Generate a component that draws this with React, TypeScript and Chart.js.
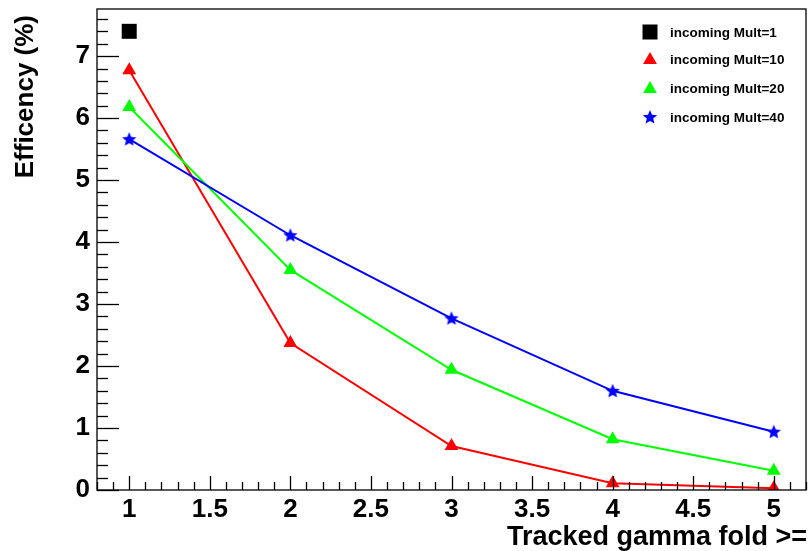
import React, { useEffect, useRef } from "react";
import { Chart, registerables } from "chart.js";
Chart.register(...registerables);

const folds = [1, 2, 3, 4, 5];
const mult1Folds = [1];
const mult1 = [7.4];
const mult10 = [6.77, 2.37, 0.71, 0.11, 0.03];
const mult20 = [6.18, 3.55, 1.94, 0.82, 0.31];
const mult40 = [5.66, 4.11, 2.77, 1.6, 0.94];
const legendLabels = ["incoming Mult=1", "incoming Mult=10", "incoming Mult=20", "incoming Mult=40"];
const xTitle = "Tracked gamma fold >=";
const yTitle = "Efficency (%)";

const FONT = "'Liberation Sans', Arial, Helvetica, sans-serif";
const AREA = { left: 97, right: 806, top: 9, bottom: 490 };

function starPath(ctx: CanvasRenderingContext2D, cx: number, cy: number, ro: number, ri: number) {
  ctx.beginPath();
  for (let i = 0; i < 10; i++) {
    const r = i % 2 === 0 ? ro : ri;
    const a = -Math.PI / 2 + (i * Math.PI) / 5;
    const x = cx + r * Math.cos(a);
    const y = cy + r * Math.sin(a);
    if (i === 0) ctx.moveTo(x, y);
    else ctx.lineTo(x, y);
  }
  ctx.closePath();
}

function makeStar(color: string) {
  const c = document.createElement("canvas");
  c.width = 16;
  c.height = 16;
  const ctx = c.getContext("2d")!;
  ctx.fillStyle = color;
  starPath(ctx, 8, 8.5, 7.5, 3.4);
  ctx.fill();
  return c;
}

function triPath(ctx: CanvasRenderingContext2D, x: number, y: number, r: number) {
  ctx.beginPath();
  ctx.moveTo(x, y - r);
  ctx.lineTo(x + r * Math.sin(Math.PI / 3), y + r * 0.5);
  ctx.lineTo(x - r * Math.sin(Math.PI / 3), y + r * 0.5);
  ctx.closePath();
}

const rootPlugin = {
  id: "rootDecor",
  afterDraw(chart: any) {
    const ctx: CanvasRenderingContext2D = chart.ctx;
    const { left, right, top, bottom } = chart.chartArea;
    const xs = chart.scales.x;
    const ys = chart.scales.y;
    ctx.save();
    ctx.strokeStyle = "#000";
    ctx.lineWidth = 1.3;
    ctx.strokeRect(left, top, right - left, bottom - top);
    for (let i = 0; i <= 40; i++) {
      const v = i * 0.2;
      if (v > ys.max + 1e-9) break;
      const py = Math.round(ys.getPixelForValue(v)) + 0.5;
      const major = i % 5 === 0;
      ctx.beginPath();
      ctx.moveTo(left, py);
      ctx.lineTo(left + (major ? 22 : 11), py);
      ctx.stroke();
    }
    for (let i = 8; i <= 52; i++) {
      const v = i * 0.1;
      if (v > xs.max + 1e-9) break;
      const px = Math.round(xs.getPixelForValue(v)) + 0.5;
      const major = i % 5 === 0;
      ctx.beginPath();
      ctx.moveTo(px, bottom);
      ctx.lineTo(px, bottom - (major ? 14 : 8));
      ctx.stroke();
    }
    ctx.fillStyle = "#000";
    ctx.font = `bold 27px ${FONT}`;
    ctx.textAlign = "right";
    ctx.textBaseline = "alphabetic";
    ctx.fillText(xTitle, 807, 545);
    ctx.save();
    ctx.translate(33, 15);
    ctx.rotate(-Math.PI / 2);
    ctx.font = `bold 26px ${FONT}`;
    ctx.textAlign = "right";
    ctx.fillText(yTitle, 0, 0);
    ctx.restore();
    const rows = [32, 59, 88, 117];
    const mx = 650;
    ctx.font = `bold 13.5px ${FONT}`;
    ctx.textAlign = "left";
    ctx.textBaseline = "middle";
    rows.forEach((ry, i) => {
      if (i === 0) {
        ctx.fillStyle = "#000";
        ctx.fillRect(mx - 7.5, ry - 7.5, 15, 15);
      } else if (i === 1 || i === 2) {
        ctx.fillStyle = i === 1 ? "#ff0000" : "#00ff00";
        triPath(ctx, mx, ry + 1, 8);
        ctx.fill();
      } else {
        ctx.fillStyle = "#0000ff";
        starPath(ctx, mx, ry + 0.5, 7.5, 3.4);
        ctx.fill();
      }
      ctx.fillStyle = "#000";
      ctx.fillText(legendLabels[i], 670, ry + 1);
    });
    ctx.restore();
  },
};

export default function App() {
  const ref = useRef<HTMLCanvasElement>(null);
  useEffect(() => {
    const star = makeStar("#0000ff");
    const toPts = (xsArr: number[], ysArr: number[]) => xsArr.map((x, i) => ({ x, y: ysArr[i] }));
    const chart: any = new Chart(ref.current!, {
      type: "scatter",
      data: {
        datasets: [
          {
            label: legendLabels[3],
            data: toPts(folds, mult40),
            showLine: true,
            borderColor: "#0000ff",
            backgroundColor: "#0000ff",
            borderWidth: 2,
            pointStyle: star as any,
            pointRadius: 7,
          },
          {
            label: legendLabels[2],
            data: toPts(folds, mult20),
            showLine: true,
            borderColor: "#00ff00",
            backgroundColor: "#00ff00",
            borderWidth: 2,
            pointStyle: "triangle",
            pointRadius: 8,
            pointBorderWidth: 0,
          },
          {
            label: legendLabels[1],
            data: toPts(folds, mult10),
            showLine: true,
            borderColor: "#ff0000",
            backgroundColor: "#ff0000",
            borderWidth: 2,
            pointStyle: "triangle",
            pointRadius: 8,
            pointBorderWidth: 0,
          },
          {
            label: legendLabels[0],
            data: toPts(mult1Folds, mult1),
            showLine: false,
            borderColor: "#000",
            backgroundColor: "#000",
            pointStyle: "rect",
            pointRadius: 10.6,
            pointBorderWidth: 0,
          },
        ],
      },
      options: {
        animation: false,
        responsive: false,
        events: [],
        layout: { autoPadding: false, padding: { left: 0, top: 9, right: 3, bottom: 0 } },
        plugins: { legend: { display: false }, tooltip: { enabled: false } },
        elements: { line: { tension: 0 } },
        scales: {
          x: {
            type: "linear",
            min: 0.8,
            max: 5.2,
            grid: { display: false, drawTicks: false },
            border: { display: false },
            afterFit: (s: any) => {
              s.height = 61;
              s.paddingLeft = 0;
              s.paddingRight = 0;
              s.paddingTop = 0;
              s.paddingBottom = 0;
            },
            ticks: {
              stepSize: 0.5,
              includeBounds: false,
              padding: 4,
              color: "#000",
              font: { family: FONT, size: 26, weight: "bold" },
              callback: (v: any) => String(v),
              maxRotation: 0,
              autoSkip: false,
            },
          },
          y: {
            type: "linear",
            min: 0,
            max: 7.76,
            grid: { display: false, drawTicks: false },
            border: { display: false },
            afterFit: (s: any) => {
              s.width = 97;
              s.paddingLeft = 0;
              s.paddingRight = 0;
              s.paddingTop = 0;
              s.paddingBottom = 0;
            },
            ticks: {
              stepSize: 1,
              includeBounds: false,
              padding: 7,
              color: "#000",
              font: { family: FONT, size: 26, weight: "bold" },
              callback: (v: any) => String(v),
              autoSkip: false,
            },
          },
        },
      },
      plugins: [rootPlugin],
    } as any);
    for (let k = 0; k < 4; k++) {
      const a = chart.chartArea;
      const p = chart.options.layout.padding;
      const dr = a.right - AREA.right;
      const dl = a.left - AREA.left;
      const dt = a.top - AREA.top;
      const db = a.bottom - AREA.bottom;
      if (Math.abs(dr) < 0.5 && Math.abs(dl) < 0.5 && Math.abs(dt) < 0.5 && Math.abs(db) < 0.5) break;
      chart.options.layout.padding = {
        left: p.left - dl,
        right: p.right + dr,
        top: p.top - dt,
        bottom: p.bottom + db,
      };
      chart.update();
    }
    return () => chart.destroy();
  }, []);
  return (
    <div style={{ position: "absolute", left: 0, top: 0, width: 809, height: 551, background: "#fff" }}>
      <canvas ref={ref} width={809} height={551} />
    </div>
  );
}
